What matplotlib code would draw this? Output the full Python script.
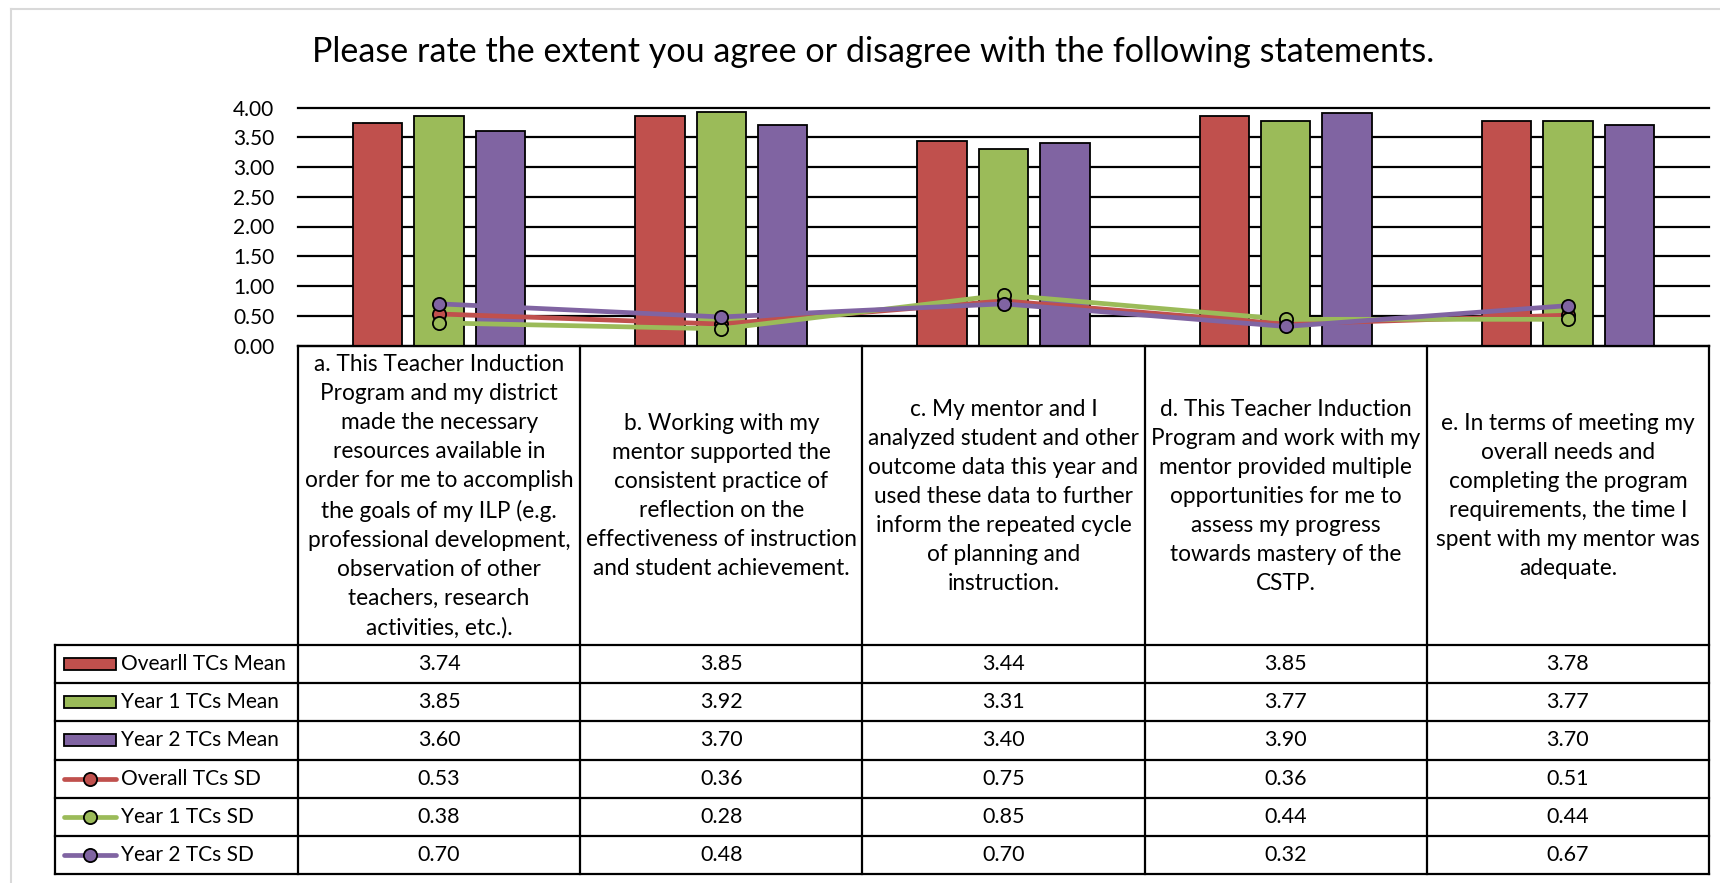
import numpy as np
import matplotlib
matplotlib.use("Agg")
import matplotlib.pyplot as plt
from matplotlib.patches import Rectangle
from matplotlib.lines import Line2D

plt.rcParams['font.family'] = ['Lato', 'DejaVu Sans']

# ---- data ----
categories = [
    "a. This Teacher Induction\nProgram and my district\nmade the necessary\nresources available in\n"
    "order for me to accomplish\nthe goals of my ILP (e.g.\nprofessional development,\n"
    "observation of other\nteachers, research\nactivities, etc.).",
    "b. Working with my\nmentor supported the\nconsistent practice of\nreflection on the\n"
    "effectiveness of instruction\nand student achievement.",
    "c. My mentor and I\nanalyzed student and other\noutcome data this year and\n"
    "used these data to further\ninform the repeated cycle\nof planning and\ninstruction.",
    "d. This Teacher Induction\nProgram and work with my\nmentor provided multiple\n"
    "opportunities for me to\nassess my progress\ntowards mastery of the\nCSTP.",
    "e. In terms of meeting my\noverall needs and\ncompleting the program\n"
    "requirements, the time I\nspent with my mentor was\nadequate.",
]
series_names = ["Ovearll TCs Mean", "Year 1 TCs Mean", "Year 2 TCs Mean",
                "Overall TCs SD", "Year 1 TCs SD", "Year 2 TCs SD"]
overall_mean = [3.74, 3.85, 3.44, 3.85, 3.78]
year1_mean = [3.85, 3.92, 3.31, 3.77, 3.77]
year2_mean = [3.60, 3.70, 3.40, 3.90, 3.70]
overall_sd = [0.53, 0.36, 0.75, 0.36, 0.51]
year1_sd = [0.38, 0.28, 0.85, 0.44, 0.44]
year2_sd = [0.70, 0.48, 0.70, 0.32, 0.67]
yticks = [0.0, 0.5, 1.0, 1.5, 2.0, 2.5, 3.0, 3.5, 4.0]

title = "Please rate the extent you agree or disagree with the following statements."

RED, GREEN, PURPLE = "#C0504D", "#9BBB59", "#8064A2"
colors = [RED, GREEN, PURPLE]
means = [overall_mean, year1_mean, year2_mean]
sds = [overall_sd, year1_sd, year2_sd]

# ---- layout (pixels) ----
W, H = 1720, 883
PL, PR, PT, PB = 298, 1709, 107.5, 345.5   # plot area
TL = 55                                    # table left (legend column)
LAB_B = 645                                # bottom of category-label cells
TB = 874                                   # table bottom
n = len(categories)
cw = (PR - PL) / n
rh = (TB - LAB_B) / 6


def fbox(left, top, right, bottom):
    return [left / W, 1 - bottom / H, (right - left) / W, (bottom - top) / H]


fig = plt.figure(figsize=(W / 100, H / 100), dpi=100)

# light frame of the chart area
fig.add_artist(Line2D([11 / W, 11 / W], [0, 1 - 9 / H], color="#D9D9D9", lw=1.5))
fig.add_artist(Line2D([11 / W, 1], [1 - 9 / H, 1 - 9 / H], color="#D9D9D9", lw=1.5))

fig.text(873 / W, 1 - 52 / H, title, ha="center", va="center", fontsize=24.6)

# ---- chart ----
ax = fig.add_axes(fbox(PL, PT, PR, PB))
x = np.arange(n)
bw = 0.175
step = 0.2177
for k in range(3):
    ax.bar(x + (k - 1) * step, means[k], width=bw, color=colors[k],
           edgecolor="black", linewidth=1.3, zorder=2)
for k in range(3):
    ax.plot(x, sds[k], color=colors[k], lw=3.4, marker="o", ms=9.5,
            mfc=colors[k], mec="black", mew=1.3, zorder=3)

ax.set_xlim(-0.5, n - 0.5)
ax.set_ylim(0, 4)
ax.set_yticks(yticks)
ax.set_yticklabels(["%.2f" % t for t in yticks])
ax.set_xticks([])
ax.tick_params(axis="y", length=0, pad=17, labelsize=15)
for s in ax.spines.values():
    s.set_visible(False)
ax.yaxis.grid(True, color="black", lw=1.6)
ax.set_axisbelow(True)
for gl in ax.get_ygridlines():
    gl.set_clip_on(False)

# ---- data table under the chart ----
tab = fig.add_axes(fbox(TL, PB, PR, TB))
tab.set_xlim(TL, PR)
tab.set_ylim(TB, PB)
tab.axis("off")
lw = 1.6

tab.plot([PL, PR], [PB, PB], color="black", lw=lw, clip_on=False)
for i in range(n + 1):
    xc = PL + i * cw
    tab.plot([xc, xc], [PB, TB], color="black", lw=lw, clip_on=False)
tab.plot([TL, TL], [LAB_B, TB], color="black", lw=lw, clip_on=False)
for r in range(7):
    yr = LAB_B + r * rh
    tab.plot([TL, PR], [yr, yr], color="black", lw=lw, clip_on=False)

for i, lab in enumerate(categories):
    tab.text(PL + (i + 0.5) * cw, (PB + LAB_B) / 2 + 1, lab, ha="center", va="center",
             multialignment="center", fontsize=16.3, linespacing=1.47)

rows = means + sds
for r, vals in enumerate(rows):
    yc = LAB_B + (r + 0.5) * rh
    for i, v in enumerate(vals):
        tab.text(PL + (i + 0.5) * cw, yc, "%.2f" % v, ha="center", va="center", fontsize=15.5)
    # legend key
    col = colors[r % 3]
    if r < 3:
        tab.add_patch(Rectangle((64, yc - 6), 52, 12, facecolor=col,
                                edgecolor="black", lw=1.3, clip_on=False))
    else:
        tab.plot([64, 116], [yc, yc], color=col, lw=3.4, clip_on=False,
                 solid_capstyle="round")
        tab.plot([90], [yc], marker="o", ms=9.5, mfc=col, mec="black", mew=1.3,
                 clip_on=False)
    tab.text(121, yc, series_names[r], ha="left", va="center", fontsize=15)

fig.savefig("out.png", dpi=100)
